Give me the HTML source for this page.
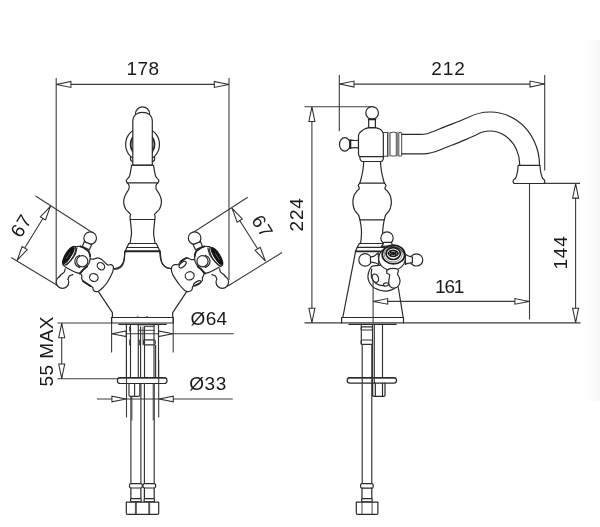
<!DOCTYPE html>
<html>
<head>
<meta charset="utf-8">
<title>Dimensions</title>
<style>
html,body{margin:0;padding:0;background:#fff;}
body{width:600px;height:527px;overflow:hidden;}
svg{display:block;filter:grayscale(1);}
.l{fill:none;stroke:#2a2a2a;stroke-width:1.2;stroke-linecap:round;stroke-linejoin:round;}
.m{fill:none;stroke:#333;stroke-width:1.15;stroke-linecap:butt;stroke-linejoin:round;}
.t2{fill:none;stroke:#555;stroke-width:0.7;}
.t{fill:none;stroke:#333;stroke-width:0.9;stroke-linecap:round;stroke-linejoin:round;}
.h{fill:none;stroke:#222;stroke-width:1.8;stroke-linecap:round;stroke-linejoin:round;}
.d{fill:none;stroke:#3c3c3c;stroke-width:1.1;}
.w{fill:#fff;stroke:#2a2a2a;stroke-width:1.2;stroke-linecap:round;stroke-linejoin:round;}
.g{fill:none;stroke:#888;stroke-width:0.6;}
.g2{fill:none;stroke:#e8e8e8;stroke-width:0.7;}
.h2{fill:#fff;stroke:#1a1a1a;stroke-width:2.5;}
.h3{fill:#fff;stroke:#1a1a1a;stroke-width:1.7;}
.f{fill:#fff;stroke:none;}
.k{fill:#111;stroke:#111;stroke-width:1;}
.a{fill:#fff;stroke:#303030;stroke-width:1.05;stroke-linejoin:miter;}
text{font-family:"Liberation Sans",sans-serif;font-size:19px;fill:#1a1a1a;stroke:none;}
</style>
</head>
<body>
<svg width="600" height="527" viewBox="0 0 600 527">
<rect x="0" y="0" width="600" height="527" fill="#fff" stroke="none"/>
<defs><linearGradient id="edge" x1="0" y1="0" x2="1" y2="0"><stop offset="0" stop-color="#ffffff"/><stop offset="0.45" stop-color="#fbfbfb"/><stop offset="1" stop-color="#f6f6f6"/></linearGradient></defs>
<rect x="586" y="40" width="14" height="361" fill="url(#edge)" stroke="none"/>
<!-- FRONT VIEW dimensions -->
<g id="front-dims">
<path class="d" d="M56.2,78 V284.5 M229,78 V280 M56.2,84.4 H229"/>
<path class="a" d="M0,0 L14.3,-3 L14.3,3 Z" transform="translate(56.6,84.4) rotate(0)"/>
<path class="a" d="M0,0 L14.3,-3 L14.3,3 Z" transform="translate(228.6,84.4) rotate(180)"/>
<text x="126.6" y="75.3" textLength="32.6" lengthAdjust="spacing">178</text>
<path class="d" d="M35.6,196 L93.5,233.2 M11.2,257.5 L58.7,286.3 M50.6,206 L17,260.5"/>
<path class="a" d="M0,0 L14.3,-3 L14.3,3 Z" transform="translate(50.4,206.3) rotate(121.6)"/>
<path class="a" d="M0,0 L14.3,-3 L14.3,3 Z" transform="translate(17.2,260.2) rotate(-58.4)"/>
<text transform="translate(20.8,226) rotate(-58.4)" x="-11" y="6.6" textLength="22" lengthAdjust="spacing">67</text>
<path class="d" d="M247.7,197.3 L192,233.2 M282,252.5 L227.5,286.3 M231.9,208.1 L265.5,261.2"/>
<path class="a" d="M0,0 L14.3,-3 L14.3,3 Z" transform="translate(232.1,208.4) rotate(57.7)"/>
<path class="a" d="M0,0 L14.3,-3 L14.3,3 Z" transform="translate(265.3,260.9) rotate(-122.3)"/>
<text transform="translate(262.3,226) rotate(57.7)" x="-11" y="6.6" textLength="22" lengthAdjust="spacing">67</text>
<path class="d" d="M57.5,323 H112 M57.5,378.8 H118 M61.7,323 V378.8"/>
<path class="a" d="M0,0 L14.3,-3 L14.3,3 Z" transform="translate(61.7,323.4) rotate(90)"/>
<path class="a" d="M0,0 L14.3,-3 L14.3,3 Z" transform="translate(61.7,378.4) rotate(-90)"/>
<text transform="translate(53,386.5) rotate(-90)" x="0" y="0" textLength="70" lengthAdjust="spacing">55 MAX</text>
<path class="d" d="M111.6,317.5 V352.5 M173.2,317.5 V352.5 M111.6,333.7 H233.7"/>
<path class="a" d="M0,0 L14.2,-2.8 L14.2,2.8 Z" transform="translate(112,333.7) rotate(0)"/>
<path class="a" d="M0,0 L14.2,-2.8 L14.2,2.8 Z" transform="translate(172.8,333.7) rotate(180)"/>
<text x="190.6" y="324.5" textLength="36.6" lengthAdjust="spacing">Ø64</text>
<path class="d" d="M126.5,360 V417.5 M158.7,360 V417.5 M97,399 H232.8"/>
<path class="a" d="M0,0 L14.2,-2.8 L14.2,2.8 Z" transform="translate(126.1,399) rotate(180)"/>
<path class="a" d="M0,0 L14.2,-2.8 L14.2,2.8 Z" transform="translate(159.1,399) rotate(0)"/>
<text x="189.2" y="389.5" textLength="37.2" lengthAdjust="spacing">Ø33</text>
</g>
<!-- SIDE VIEW dimensions -->
<g id="side-dims">
<path class="d" d="M339.3,75 V131.2 M544.7,75 V170.6 M339.3,84.1 H544.7"/>
<path class="a" d="M0,0 L14.3,-3 L14.3,3 Z" transform="translate(339.7,84.1) rotate(0)"/>
<path class="a" d="M0,0 L14.3,-3 L14.3,3 Z" transform="translate(544.3,84.1) rotate(180)"/>
<text x="431.2" y="74.8" textLength="33.6" lengthAdjust="spacing">212</text>
<path class="d" d="M304.5,106.8 H372 M304.5,322.9 H580.5 M311.9,106.8 V322.9"/>
<path class="a" d="M0,0 L14.3,-3 L14.3,3 Z" transform="translate(311.9,107.2) rotate(90)"/>
<path class="a" d="M0,0 L14.3,-3 L14.3,3 Z" transform="translate(311.9,322.5) rotate(-90)"/>
<text transform="translate(303.2,231.5) rotate(-90)" x="0" y="0" textLength="33.4" lengthAdjust="spacing">224</text>
<path class="d" d="M514,183.4 H580 M575.6,183.4 V322.9"/>
<path class="a" d="M0,0 L14.3,-3 L14.3,3 Z" transform="translate(575.6,183.8) rotate(90)"/>
<path class="a" d="M0,0 L14.3,-3 L14.3,3 Z" transform="translate(575.6,322.5) rotate(-90)"/>
<text transform="translate(567,269.6) rotate(-90)" x="0" y="0" textLength="33.4" lengthAdjust="spacing">144</text>
<path class="d" d="M529.5,183.4 V319.5 M373.1,301.4 H529.5"/>
<path class="a" d="M0,0 L14.2,-2.8 L14.2,2.8 Z" transform="translate(373.5,301.4) rotate(0)"/>
<path class="a" d="M0,0 L14.2,-2.8 L14.2,2.8 Z" transform="translate(529.1,301.4) rotate(180)"/>
<text x="435" y="292.5" textLength="29.4" lengthAdjust="spacing">161</text>
</g>
<!-- FRONT VIEW body -->
<g id="front-body">
<circle class="l" cx="142.55" cy="114" r="7.1"/>
<circle class="l" cx="142.55" cy="144.4" r="16.9"/>
<circle class="h" cx="142.55" cy="144.4" r="11.9"/>
<path class="l" d="M130.6,157 Q129.8,160.8 132.6,161.6 M154.5,157 Q155.3,160.8 152.5,161.6"/>
<path class="w" d="M132.8,165.2 V121.2 C132.8,115.5 137,112.3 142.55,112.3 C148.1,112.3 152.3,115.5 152.3,121.2 V165.2 Z"/>
<path class="l" d="M131.6,165.25 C131.43,166.25 130.97,169.42 130.6,171.25 C130.23,173.08 129.92,175 129.4,176.25 C128.88,177.5 128.03,178.03 127.5,178.75 C126.97,179.47 126.29,179.91 126.25,180.6 C126.21,181.29 127.08,182.52 127.25,182.9 C127.5,183.15 128.43,183.73 128.75,184.4 C129.07,185.07 129.21,186.03 129.2,186.9 C129.19,187.77 129.18,188.53 128.7,189.6 C128.22,190.67 127.02,191.98 126.3,193.3 C125.58,194.62 124.83,196.18 124.4,197.5 C123.97,198.82 123.75,199.95 123.7,201.2 C123.65,202.45 123.75,203.67 124.1,205 C124.45,206.33 125.02,207.95 125.8,209.2 C126.58,210.45 128,211.63 128.8,212.5 C129.6,213.37 130.4,213.78 130.6,214.4 C130.8,215.03 130.05,215.4 130,216.25 C129.95,217.1 130.25,218.96 130.3,219.5 C130.35,220 130.4,220.33 130.6,222.5 C130.8,224.67 131.45,229.92 131.5,232.5 C131.55,235.08 131.15,236.2 130.9,238 C130.65,239.8 130.15,242.42 130,243.3 L128.75,243.5 L126.9,247.5 L125.25,251.25 C125.17,251.56 124.96,251.64 124.75,253.1 C124.54,254.56 124.38,258.23 124,260 C123.62,261.77 123.27,262.6 122.5,263.75 C121.73,264.9 120.75,266.07 119.4,266.9 C118.05,267.73 115.23,268.44 114.4,268.75"/>
<path class="l" d="M153.5,165.25 C153.67,166.25 154.13,169.42 154.5,171.25 C154.87,173.08 155.18,175 155.7,176.25 C156.22,177.5 157.08,178.03 157.6,178.75 C158.13,179.47 158.81,179.91 158.85,180.6 C158.89,181.29 158.02,182.52 157.85,182.9 C157.6,183.15 156.68,183.73 156.35,184.4 C156.03,185.07 155.89,186.03 155.9,186.9 C155.91,187.77 155.92,188.53 156.4,189.6 C156.88,190.67 158.08,191.98 158.8,193.3 C159.52,194.62 160.27,196.18 160.7,197.5 C161.13,198.82 161.35,199.95 161.4,201.2 C161.45,202.45 161.35,203.67 161,205 C160.65,206.33 160.08,207.95 159.3,209.2 C158.52,210.45 157.1,211.63 156.3,212.5 C155.5,213.37 154.7,213.78 154.5,214.4 C154.3,215.03 155.05,215.4 155.1,216.25 C155.15,217.1 154.85,218.96 154.8,219.5 C154.75,220 154.7,220.33 154.5,222.5 C154.3,224.67 153.65,229.92 153.6,232.5 C153.55,235.08 153.95,236.2 154.2,238 C154.45,239.8 154.95,242.42 155.1,243.3 L156.35,243.5 L158.2,247.5 L159.85,251.25 C159.93,251.56 160.14,251.64 160.35,253.1 C160.56,254.56 160.73,258.23 161.1,260 C161.48,261.77 161.83,262.6 162.6,263.75 C163.37,264.9 164.35,266.07 165.7,266.9 C167.05,267.73 169.87,268.44 170.7,268.75"/>
<path class="l" d="M131.6,165.25 L153.5,165.25"/>
<path class="l" d="M127.25,182.9 L157.85,182.9"/>
<path class="l" d="M130.3,219.5 L154.8,219.5"/>
<path class="l" d="M128.75,243.5 L156.35,243.5"/>
<path class="l" d="M126.9,247.5 L158.2,247.5"/>
<path class="h" d="M125.25,251.25 L159.85,251.25"/>
<path class="l" d="M98.1,291.2 L112.4,312.6 V317.5"/>
<path class="l" d="M187,291.2 L172.7,312.6 V317.5"/>
<path class="l" d="M111.3,317.5 H173.3 M111.6,317.5 V323 M173.2,317.5 V323 M111.6,323 H173.2"/>
<path class="t" d="M136.6,317.3 l1,-0.9 l1,0.9 M146,317.3 l1,-0.9 l1,0.9"/>
<path class="l" d="M118.8,324.3 H166.3"/>
<path class="m" d="M126.4,324.5 V377.5 M130.5,324.5 V377.5 M138.3,324.5 V377.5 M140.6,326.5 V377.5 M144.5,326.5 V377.5 M154,324.5 V377.5 M155.6,345 V377.5 M158.5,324.5 V377.5"/>
<path class="t" d="M138.3,324.9 H154.6 M144.5,326.6 H153.8 M138.3,330.3 H154.6"/>
<path class="t" d="M129.6,327 V331 M129.6,340 V345 M139.6,340 V345 M143,327 V345"/>
<rect class="m" x="143.6" y="339.8" width="11.6" height="5" rx="1.2"/>
<rect class="l" x="117.4" y="377.6" width="49.6" height="5.9" rx="2.8"/>
<path class="t" d="M118.5,378.2 L166,378.2"/>
<path class="m" d="M129,383.5 V395 Q129,396.3 130.3,396.3 H138.5 Q139.8,396.3 139.8,395 V383.5 M134.6,383.5 V396.3"/>
<path class="m" d="M130.9,396.3 V483.5 M140.9,383.5 V483.5 M144.4,383.5 V483.5 M154.2,383.5 V483.5"/>
<path class="t" d="M131.9,396.3 V420 M153.2,383.5 V420"/>
<rect class="w" x="129.5" y="483.6" width="12.8" height="4.4" rx="1.5"/>
<path class="l" d="M130.9,488 V498.6 M140.9,488 V498.6"/>
<rect class="w" x="130.6" y="498.6" width="10.6" height="3.2" rx="1"/>
<rect class="w" x="143" y="483.6" width="12.6" height="4.4" rx="1.5"/>
<path class="l" d="M144.4,488 V498.6 M154.2,488 V498.6"/>
<rect class="w" x="144.1" y="498.6" width="10.4" height="3.2" rx="1"/>
<path class="w" d="M126.3,502.2 H158.7 V513 Q158.7,514.4 157.3,514.4 H127.7 Q126.3,514.4 126.3,513 Z"/>
<path class="t" d="M135.4,502.2 V514.4 M136.3,502.2 V514.4 M148.8,502.2 V514.4 M149.7,502.2 V514.4"/>
</g>
<!-- front view: left handle -->
<g id="handle-left">
<path class="w" d="M89.25,258.75 C89.88,258.82 91.61,259.31 93,259.17 C94.39,259.03 96.12,257.85 97.58,257.92 C99.04,257.99 100.43,258.71 101.75,259.58 C103.07,260.46 104.46,262.26 105.5,263.17 C106.54,264.07 107.06,264.76 108,265 C108.94,265.24 110.26,264.28 111.17,264.58 C112.07,264.89 113.11,265.79 113.42,266.83 C113.72,267.88 113.42,269.33 113,270.83 C112.58,272.33 111.89,273.89 110.92,275.83 C109.94,277.78 108.49,280.56 107.17,282.5 C105.85,284.44 104.46,286.04 103,287.5 C101.54,288.96 99.74,290.6 98.42,291.25 C97.1,291.9 95.94,291.65 95.08,291.42 C94.22,291.18 93.67,290.53 93.25,289.83 C92.83,289.14 93.32,288.06 92.58,287.25 C91.85,286.44 90.36,286 88.83,285 C87.31,284 84.6,282.29 83.42,281.25 C82.24,280.21 82.03,279.79 81.75,278.75 C81.47,277.71 82.17,276.07 81.75,275 C81.33,273.93 79.04,273.72 79.25,272.33 C79.46,270.94 82.38,267.61 83,266.67 Z"/>
<path class="h" d="M83.17,281.33 L90.5,286"/>
<ellipse class="l" cx="100.92" cy="266.25" rx="4" ry="3.3" transform="rotate(40 100.92 266.25)"/>
<ellipse class="l" cx="93.83" cy="277.5" rx="4.3" ry="3.9" transform="rotate(20 93.83 277.5)"/>
<path class="l" d="M124.67,251.67 C124.62,252.78 124.69,256.25 124.42,258.33 C124.14,260.42 123.79,262.57 123,264.17 C122.21,265.76 121.06,267.08 119.67,267.92 C118.28,268.75 115.72,269.12 114.67,269.17 C113.61,269.21 113.56,268.33 113.33,268.17"/>
<circle class="w" cx="62.5" cy="282.08" r="6.3"/>
<path class="f" d="M65.17,268.75 C65.03,269.29 64.89,271.12 64.33,272 C63.78,272.88 62.44,273.5 61.83,274 C61.22,274.5 61.25,274.35 60.67,275 C60.08,275.65 58.72,277.43 58.33,277.92 L62.5,282.5 L68,279.67 C68.22,279.06 68.51,276.85 69.33,276 C70.15,275.15 72.32,274.82 72.92,274.58 Z"/>
<path class="l" d="M65.17,268.75 C65.03,269.29 64.89,271.12 64.33,272 C63.78,272.88 62.44,273.5 61.83,274 C61.22,274.5 61.19,274.42 60.67,275 C60.14,275.58 59,277.08 58.67,277.5"/>
<path class="l" d="M67.92,279.5 C68.15,278.92 68.5,276.82 69.33,276 C70.17,275.18 72.32,274.82 72.92,274.58"/>
<circle class="w" cx="90.17" cy="238.08" r="6.3"/>
<path class="w" d="M84.33,241.58 L91.67,244.67 L89.33,249.83 L82.33,246.5 Z"/>
<path class="w" d="M75.23,246.67 C76.09,246.61 78.84,246.06 80.4,246.33 C81.96,246.61 83.18,247.47 84.57,248.33 C85.96,249.19 87.82,250.21 88.73,251.5 C89.65,252.79 89.93,254.35 90.07,256.08 C90.21,257.82 90.09,260.18 89.57,261.92 C89.04,263.65 87.8,265.32 86.9,266.5 C86,267.68 85.23,267.89 84.15,269 C83.07,270.11 81.79,272.61 80.4,273.17 C79.01,273.72 77.34,272.82 75.82,272.33 C74.29,271.85 72.69,270.97 71.23,270.25 C69.78,269.53 68.32,268.76 67.07,268 C65.82,267.24 64.5,266.44 63.73,265.67 C62.97,264.89 62.69,263.72 62.48,263.33 Z"/>
<path class="h" d="M80.4,246.33 C81.09,246.67 83.18,247.47 84.57,248.33 C85.96,249.19 87.82,250.21 88.73,251.5 C89.65,252.79 89.84,255.32 90.07,256.08"/>
<path class="h" d="M87.07,266.43 C86.51,266.88 84.96,267.91 83.73,269.1 C82.51,270.29 80.4,272.85 79.73,273.6"/>
<ellipse class="w" cx="69.2" cy="255.7" rx="10.7" ry="3.9" transform="rotate(-58 69.2 255.7)"/>
<ellipse class="k" cx="68.55" cy="255.25" rx="9.6" ry="2.5" transform="rotate(-58 68.55 255.25)"/>
<path class="g" d="M70.2,252.3 L66.2,258.7"/>
<path class="l" d="M76.9,248.03 C76.62,249.06 76.23,252.13 75.23,254.2 C74.23,256.27 72.34,258.67 70.9,260.45 C69.46,262.23 67.29,264.13 66.57,264.87"/>
<path class="l" d="M79.57,255.33 C78.98,255.69 76.86,256.47 76.07,257.5 C75.27,258.53 74.79,260.19 74.82,261.5 C74.84,262.81 75.41,264.33 76.23,265.33 C77.05,266.33 79.15,267.14 79.73,267.5"/>
<circle class="w" cx="82.3" cy="261.3" r="5.6"/>
</g>
<!-- front view: right handle -->
<g id="handle-right">
<path class="w" d="M195.08,259.17 C194.46,259.24 192.65,259.79 191.33,259.58 C190.01,259.38 188.42,257.99 187.17,257.92 C185.92,257.85 184.94,258.54 183.83,259.17 C182.72,259.79 181.47,260.76 180.5,261.67 C179.53,262.57 178.97,264.1 178,264.58 C177.03,265.07 175.64,264.31 174.67,264.58 C173.69,264.86 172.72,265.49 172.17,266.25 C171.61,267.01 171.26,267.85 171.33,269.17 C171.4,270.49 171.89,272.5 172.58,274.17 C173.28,275.83 174.32,277.36 175.5,279.17 C176.68,280.97 178.28,283.26 179.67,285 C181.06,286.74 182.72,288.51 183.83,289.58 C184.94,290.65 185.29,291.14 186.33,291.42 C187.38,291.69 189.11,291.62 190.08,291.25 C191.06,290.88 191.75,289.93 192.17,289.17 C192.58,288.4 192.17,287.29 192.58,286.67 C193,286.04 193.49,286.04 194.67,285.42 C195.85,284.79 198.42,283.68 199.67,282.92 C200.92,282.15 201.68,281.74 202.17,280.83 C202.65,279.93 202.24,278.75 202.58,277.5 C202.93,276.25 204.18,274.44 204.25,273.33 C204.32,272.22 203.76,271.94 203,270.83 C202.24,269.72 200.22,267.36 199.67,266.67 Z"/>
<ellipse class="l" cx="182.58" cy="264.58" rx="4.3" ry="2.2" transform="rotate(-42 182.58 264.58)"/>
<ellipse class="l" cx="189.67" cy="275.83" rx="4.5" ry="4.1" transform="rotate(-20 189.67 275.83)"/>
<ellipse class="l" cx="197.17" cy="283.33" rx="4.1" ry="1.7" transform="rotate(-30 197.17 283.33)"/>
<path class="h" d="M180.67,261.67 C181.19,261.25 182.82,259.76 183.83,259.17 C184.85,258.57 186.26,258.26 186.75,258.08"/>
<path class="l" d="M159.67,250.83 C159.81,252.08 160.01,256.11 160.5,258.33 C160.99,260.56 161.61,262.64 162.58,264.17 C163.56,265.69 165.01,266.78 166.33,267.5 C167.65,268.22 169.58,268.42 170.5,268.5 C171.42,268.58 171.61,268.08 171.83,268"/>
<circle class="w" cx="222.3" cy="282.08" r="6.3"/>
<path class="f" d="M219.63,268.75 C219.77,269.29 219.91,271.12 220.47,272 C221.02,272.88 222.36,273.5 222.97,274 C223.58,274.5 223.55,274.35 224.13,275 C224.72,275.65 226.08,277.43 226.47,277.92 L222.3,282.5 L216.8,279.67 C216.58,279.06 216.29,276.85 215.47,276 C214.65,275.15 212.48,274.82 211.88,274.58 Z"/>
<path class="l" d="M219.63,268.75 C219.77,269.29 219.91,271.12 220.47,272 C221.02,272.88 222.36,273.5 222.97,274 C223.58,274.5 223.61,274.42 224.13,275 C224.66,275.58 225.8,277.08 226.13,277.5"/>
<path class="l" d="M216.88,279.5 C216.65,278.92 216.3,276.82 215.47,276 C214.63,275.18 212.48,274.82 211.88,274.58"/>
<circle class="w" cx="194.63" cy="238.08" r="6.3"/>
<path class="w" d="M200.47,241.58 L193.13,244.67 L195.47,249.83 L202.47,246.5 Z"/>
<path class="w" d="M209.57,246.67 C208.71,246.61 205.96,246.06 204.4,246.33 C202.84,246.61 201.62,247.47 200.23,248.33 C198.84,249.19 196.98,250.21 196.07,251.5 C195.15,252.79 194.87,254.35 194.73,256.08 C194.59,257.82 194.71,260.18 195.23,261.92 C195.76,263.65 197,265.32 197.9,266.5 C198.8,267.68 199.57,267.89 200.65,269 C201.73,270.11 203.01,272.61 204.4,273.17 C205.79,273.72 207.46,272.82 208.98,272.33 C210.51,271.85 212.11,270.97 213.57,270.25 C215.03,269.53 216.48,268.76 217.73,268 C218.98,267.24 220.3,266.44 221.07,265.67 C221.83,264.89 222.11,263.72 222.32,263.33 Z"/>
<path class="h" d="M204.4,246.33 C203.71,246.67 201.62,247.47 200.23,248.33 C198.84,249.19 196.98,250.21 196.07,251.5 C195.15,252.79 194.96,255.32 194.73,256.08"/>
<path class="h" d="M197.73,266.43 C198.29,266.88 199.84,267.91 201.07,269.1 C202.29,270.29 204.4,272.85 205.07,273.6"/>
<ellipse class="w" cx="216.2" cy="256.7" rx="10.7" ry="3.9" transform="rotate(58 216.2 256.7)"/>
<ellipse class="k" cx="216.85" cy="256.25" rx="9.6" ry="2.5" transform="rotate(58 216.85 256.25)"/>
<path class="g" d="M215.2,253.3 L219.2,259.7"/>
<path class="l" d="M207.9,248.03 C208.18,249.06 208.57,252.13 209.57,254.2 C210.57,256.27 212.46,258.67 213.9,260.45 C215.34,262.23 217.51,264.13 218.23,264.87"/>
<path class="l" d="M205.23,255.33 C205.82,255.69 207.94,256.47 208.73,257.5 C209.53,258.53 210.01,260.19 209.98,261.5 C209.96,262.81 209.39,264.33 208.57,265.33 C207.75,266.33 205.65,267.14 205.07,267.5"/>
<circle class="w" cx="202.5" cy="261.3" r="5.6"/>
</g>
<!-- SIDE VIEW body -->
<g id="side-body">
<path class="l" d="M401.7,134.4 H421 C428,134.4 433,131.6 440,128.7 C449.5,124.8 459,121.6 468,117.5 A49.5,53 0 0 1 539.5,165.4"/>
<path class="l" d="M401.7,153.9 H423 C430,153.9 435,152 441,149.5 C449,146.2 457,143.4 465,139.9 C469,138.2 472.5,136.6 476,135 A29.75,34 0 0 1 519.75,165.4"/>
<path class="w" d="M514,183.5 C513.85,183.23 513.21,182.46 513.12,181.88 C513.04,181.29 513.08,180.62 513.5,180 C513.92,179.38 515.06,179.06 515.62,178.12 C516.19,177.19 516.52,175.73 516.88,174.38 C517.23,173.02 517.54,171.5 517.75,170 C517.96,168.5 518.06,166.15 518.12,165.38 L540,165.38 C540.06,166.15 540.17,168.5 540.38,170 C540.58,171.5 540.9,173.02 541.25,174.38 C541.6,175.73 541.98,177.19 542.5,178.12 C543.02,179.06 544,179.38 544.38,180 C544.75,180.62 544.81,181.29 544.75,181.88 C544.69,182.46 544.12,183.23 544,183.5 Z"/>
<path class="t" d="M383.3,132.5 H387.5 M383.3,156.2 H387.5 M387.5,132.5 V156.2"/>
<path class="t2" d="M388.8,132.4 V156.3 M387.5,132.5 L388.8,132.4 M387.5,156.2 L388.8,156.3"/>
<path class="t" d="M390.4,132.6 Q393.5,131.6 396.3,132.6 V155.8 Q393.5,156.5 390.4,155.8 Z"/>
<path class="t2" d="M397.5,132.5 V156.1 M396.3,132.6 L397.5,132.5 M396.3,155.8 L397.5,156.1"/>
<path class="t" d="M399.2,132.5 H401 Q401.7,132.5 401.7,133.2 V155.4 Q401.7,156.1 401,156.1 H399.2 Z"/>
<circle class="w" cx="372.1" cy="112.9" r="6.3"/>
<path class="w" d="M368.7,119.3 H375.4 V127.6 H368.7 Z"/>
<path class="h" d="M368.7,119.4 L375.4,119.4"/>
<ellipse class="w" cx="344.8" cy="144.4" rx="5.3" ry="6.8"/>
<path class="w" d="M350,139.92 C350.69,140.01 352.75,140.46 354.17,140.5 C355.58,140.54 357.78,140.22 358.5,140.17 L358.5,148 C357.78,147.94 355.58,147.62 354.17,147.67 C352.75,147.71 350.69,148.15 350,148.25 Z"/>
<path class="h" d="M350.4,140.2 L350.4,148.2"/>
<path class="w" d="M359.58,156.5 C359.44,156.29 358.93,155.69 358.75,155.25 C358.57,154.81 358.54,154.07 358.5,153.83 L358.5,135.75 C358.64,135.33 358.81,134.04 359.33,133.25 C359.86,132.46 360.79,131.69 361.67,131 C362.54,130.31 363.58,129.6 364.58,129.08 C365.58,128.57 367.15,128.11 367.67,127.92 L376.67,127.92 C377.08,128.07 378.38,128.43 379.17,128.83 C379.96,129.24 380.79,129.74 381.42,130.33 C382.04,130.93 382.6,131.72 382.92,132.42 C383.24,133.11 383.26,134.15 383.33,134.5 L383.33,156.33 Z"/>
<path class="w" d="M359.83,156.67 C359.86,156.99 359.83,157.94 360,158.58 C360.17,159.22 360.49,160.01 360.83,160.5 C361.18,160.99 361.88,161.33 362.08,161.5 L381.67,161.5 C381.85,161.29 382.47,160.74 382.75,160.25 C383.03,159.76 383.21,159.18 383.33,158.58 C383.46,157.99 383.47,156.99 383.5,156.67 Z"/>
<path class="l" d="M363.75,161.5 C363.67,162.5 363.5,165.46 363.25,167.5 C363,169.54 362.67,171.67 362.25,173.75 C361.83,175.83 361.15,178.46 360.75,180 C360.35,181.54 360.02,182.5 359.88,183"/>
<path class="l" d="M359.75,183.12 C359.58,183.33 359,183.94 358.75,184.38 C358.5,184.81 358.23,185.31 358.25,185.75 C358.27,186.19 358.71,186.62 358.88,187 C359.04,187.38 359.23,187.62 359.25,188 C359.27,188.38 359.04,189.04 359,189.25 C358.62,189.58 357.56,190.25 356.75,191.25 C355.94,192.25 354.77,193.58 354.12,195.25 C353.48,196.92 353,199.42 352.88,201.25 C352.75,203.08 353.06,204.75 353.38,206.25 C353.69,207.75 354.1,209.04 354.75,210.25 C355.4,211.46 356.58,212.6 357.25,213.5 C357.92,214.4 358.38,214.85 358.75,215.62 C359.12,216.4 359.29,217.44 359.5,218.12 C359.71,218.81 359.92,219.48 360,219.75"/>
<path class="l" d="M360,220 C360.15,220.83 360.62,223.12 360.88,225 C361.12,226.88 361.44,229.17 361.5,231.25 C361.56,233.33 361.4,235.52 361.25,237.5 C361.1,239.48 360.73,242.19 360.62,243.12 L359.38,243.5 L357.25,247.25 L355.62,251.25"/>
<path class="l" d="M380.45,161.5 C380.53,162.5 380.7,165.46 380.95,167.5 C381.2,169.54 381.53,171.67 381.95,173.75 C382.37,175.83 383.05,178.46 383.45,180 C383.85,181.54 384.18,182.5 384.33,183"/>
<path class="l" d="M384.45,183.12 C384.62,183.33 385.2,183.94 385.45,184.38 C385.7,184.81 385.97,185.31 385.95,185.75 C385.93,186.19 385.49,186.62 385.33,187 C385.16,187.38 384.97,187.62 384.95,188 C384.93,188.38 385.16,189.04 385.2,189.25 C385.58,189.58 386.64,190.25 387.45,191.25 C388.26,192.25 389.43,193.58 390.08,195.25 C390.72,196.92 391.2,199.42 391.33,201.25 C391.45,203.08 391.14,204.75 390.83,206.25 C390.51,207.75 390.1,209.04 389.45,210.25 C388.8,211.46 387.62,212.6 386.95,213.5 C386.28,214.4 385.83,214.85 385.45,215.62 C385.08,216.4 384.91,217.44 384.7,218.12 C384.49,218.81 384.28,219.48 384.2,219.75"/>
<path class="l" d="M384.2,220 C384.05,220.83 383.58,223.12 383.33,225 C383.08,226.88 382.76,229.17 382.7,231.25 C382.64,233.33 382.8,235.52 382.95,237.5 C383.1,239.48 383.47,242.19 383.58,243.12 L384.83,243.5 L386.95,247.25 L388.58,251.25"/>
<path class="l" d="M359.8,183.1 L384.4,183.1"/>
<path class="l" d="M360,219.8 L384.2,219.8"/>
<path class="l" d="M359.4,243.5 L384.8,243.5"/>
<path class="l" d="M357.3,247.3 L386.9,247.3"/>
<path class="h" d="M355.6,251.3 L388.6,251.3"/>
<path class="l" d="M355.6,251.3 L342.8,317.5 M398.3,287.5 L403.2,317.5"/>
<path class="l" d="M342.5,317.5 H403.4 M341.6,317.5 V323 M403.5,317.5 V323"/>
<path class="l" d="M348.8,324.3 H396.3"/>
<path class="m" d="M361.3,324.5 V344.4 M372.5,324.5 V396 M374.3,324.5 V383 M382.5,324.5 V377.5 M362.2,344.4 V483.5 M371.8,344.4 V483.5"/>
<rect class="m" x="361.1" y="326.8" width="11.4" height="3.2" rx="1"/>
<rect class="m" x="361.1" y="340" width="11.4" height="4.4" rx="1.2"/>
<rect class="l" x="347.2" y="377.6" width="49.3" height="5.6" rx="2.7"/>
<path class="t" d="M348.4,378.2 L395.4,378.2"/>
<path class="l" d="M372.6,383.2 V395 Q372.6,396.3 373.9,396.3 H383.7 Q385,396.3 385,395 V383.2 M375.3,383.2 V396.3 M382.5,383.2 V396.3"/>
<rect class="w" x="360.6" y="483.6" width="12.6" height="4.6" rx="1.5"/>
<path class="l" d="M362,488.2 V498.6 M371.8,488.2 V498.6"/>
<rect class="w" x="361.6" y="498.6" width="10.6" height="3.2" rx="1"/>
<path class="w" d="M356.3,502.2 H377.9 V513 Q377.9,514.4 376.5,514.4 H357.7 Q356.3,514.4 356.3,513 Z"/>
<path class="t" d="M362,502.2 V514.4 M372.1,502.2 V514.4"/>
</g>
<!-- side view: cross handle -->
<g id="handle-side">
<path class="w" d="M372.08,266.08 C371.74,266.57 370.6,267.89 370,269 C369.4,270.11 368.85,271.36 368.5,272.75 C368.15,274.14 367.78,275.74 367.92,277.33 C368.06,278.93 368.64,280.88 369.33,282.33 C370.03,283.79 371.14,285.08 372.08,286.08 C373.03,287.08 373.68,287.64 375,288.33 C376.32,289.03 378.06,289.79 380,290.25 C381.94,290.71 384.65,291.18 386.67,291.08 C388.68,290.99 390.62,290.29 392.08,289.67 C393.54,289.04 394.65,288.28 395.42,287.33 C396.18,286.39 397.01,286.64 396.67,284 C396.32,281.36 395.56,274.69 393.33,271.5 C391.11,268.31 385,265.94 383.33,264.83 Z"/>
<path class="l" d="M371.83,269 C371.74,269.69 371.25,271.64 371.25,273.17 C371.25,274.69 371.35,276.71 371.83,278.17 C372.32,279.62 373.08,280.83 374.17,281.92 C375.25,283 376.81,284.04 378.33,284.67 C379.86,285.29 381.74,285.61 383.33,285.67 C384.93,285.72 387.15,285.11 387.92,285"/>
<ellipse class="w" cx="375.42" cy="278.17" rx="3" ry="4.3" transform="rotate(-20 375.42 278.17)"/>
<ellipse class="w" cx="386" cy="284.42" rx="2.6" ry="1.6" transform="rotate(-10 386 284.42)"/>
<path class="d" d="M373.1,280 V323"/>
<circle class="w" cx="365.12" cy="259.88" r="6.3"/>
<path class="w" d="M370.49,256.9 C371,256.81 372.67,256.71 373.54,256.37 C374.42,256.04 374.96,255.5 375.73,254.89 C376.5,254.28 377.76,253.07 378.17,252.71 L378.78,264.49 C378.27,264.24 376.6,263.34 375.73,263 C374.85,262.67 374.42,262.63 373.54,262.48 C372.67,262.33 371,262.19 370.49,262.13 Z"/>
<ellipse class="w" cx="416.38" cy="259.88" rx="6.4" ry="6.1"/>
<path class="w" d="M412.38,256.9 C411.94,256.81 410.56,256.6 409.76,256.37 C408.96,256.14 408.3,255.89 407.58,255.5 C406.85,255.11 405.76,254.26 405.39,254.02 L405.39,264.49 C405.76,264.3 406.85,263.6 407.58,263.35 C408.3,263.11 408.96,263.09 409.76,263 C410.56,262.92 411.94,262.86 412.38,262.83 Z"/>
<circle class="w" cx="387" cy="238" r="6.2"/>
<path class="w" d="M383.58,242.41 L391.61,242.41 C391.65,242.67 391.61,243.4 391.87,243.98 C392.13,244.56 392.96,245.58 393.18,245.9 L381.4,246.42 L383.14,244.16 Z"/>
<ellipse class="w" cx="392" cy="258.5" rx="13.3" ry="11.8"/>
<ellipse class="h" cx="393.5" cy="254.5" rx="11.3" ry="9.4"/>
<ellipse class="t2" cx="393.2" cy="254.3" rx="9" ry="7.7"/>
<ellipse class="h3" cx="393.2" cy="253.6" rx="7.1" ry="5.9"/>
<ellipse class="k" cx="393.2" cy="253.4" rx="5.2" ry="3.3"/>
<path class="g2" d="M389.5,252.4 q1.1,1 0,2.2 M396.9,252.4 q-1.1,1 0,2.2 M391.2,251.9 q2,-0.8 4,0 M391.2,255 q2,0.8 4,0"/>
<path class="w" d="M386.67,270.67 C387.22,270.33 388.47,269 390,268.67 C391.53,268.33 394.42,268.33 395.83,268.67 C397.25,269 398.22,269.78 398.5,270.67 C398.78,271.56 397.39,272.89 397.5,274 C397.61,275.11 398.75,276.08 399.17,277.33 C399.58,278.58 400.14,280.04 400,281.5 C399.86,282.96 399.31,284.97 398.33,286.08 C397.36,287.19 395.49,288.03 394.17,288.17 C392.85,288.31 391.32,287.75 390.42,286.92 C389.51,286.08 388.96,284.62 388.75,283.17 C388.54,281.71 389.03,279.56 389.17,278.17 C389.31,276.78 389.97,275.67 389.58,274.83 C389.19,274 387.29,273.44 386.83,273.17 Z"/>
</g>
</svg>
</body>
</html>
